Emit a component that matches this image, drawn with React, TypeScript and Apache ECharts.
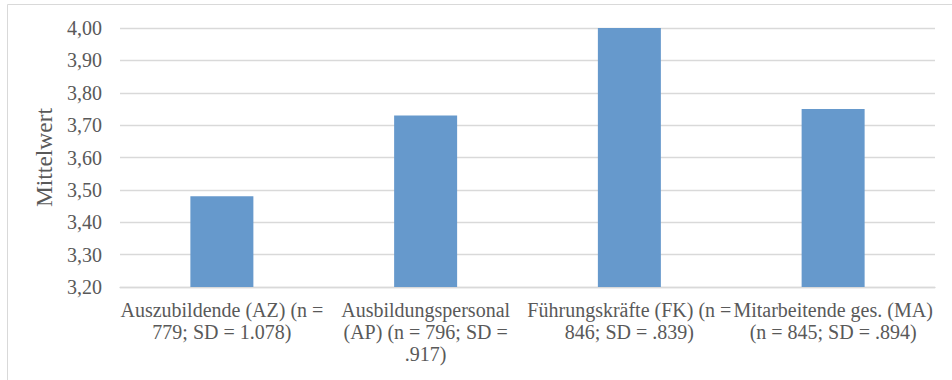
import React, { useEffect, useRef } from "react";
import * as echarts from "echarts";

const categories = [
  "Auszubildende (AZ) (n =\n779; SD = 1.078)",
  "Ausbildungspersonal\n(AP) (n = 796; SD =\n.917)",
  "Führungskräfte (FK) (n =\n846; SD = .839)",
  "Mitarbeitende ges. (MA)\n(n = 845; SD = .894)",
];
const values = [3.48, 3.73, 4.0, 3.75];
const yAxisName = "Mittelwert";
const yMin = 3.2;
const yMax = 4.0;
const yStep = 0.1;

export default function App() {
  const ref = useRef<HTMLDivElement>(null);
  useEffect(() => {
    if (!ref.current) return;
    const chart = echarts.init(ref.current, undefined, { renderer: "svg" });
    const font = "Liberation Serif";
    chart.setOption({
      animation: false,
      backgroundColor: "#ffffff",
      textStyle: { fontFamily: font },
      graphic: [
        {
          type: "rect",
          shape: { x: 7.5, y: 4.5, width: 960, height: 400 },
          style: { fill: "none", stroke: "#d9d9d9", lineWidth: 1 },
          silent: true,
        },
      ],
      grid: { left: 120, right: 17, top: 28, bottom: 93, containLabel: false },
      xAxis: {
        type: "category",
        data: categories,
        axisLine: { show: true, lineStyle: { color: "#d9d9d9", width: 1.3 } },
        axisTick: { show: false },
        axisLabel: {
          interval: 0,
          color: "#595959",
          fontSize: 20,
          lineHeight: 22,
          margin: 12,
          fontFamily: font,
        },
      },
      yAxis: {
        type: "value",
        min: yMin,
        max: yMax,
        interval: yStep,
        name: yAxisName,
        nameLocation: "middle",
        nameGap: 63,
        nameTextStyle: { color: "#595959", fontSize: 23.5, fontFamily: font },
        axisLine: { show: false },
        axisTick: { show: false },
        splitLine: { lineStyle: { color: "#d9d9d9", width: 1.3 } },
        axisLabel: {
          color: "#595959",
          fontSize: 20,
          margin: 18,
          fontFamily: font,
          formatter: (v: number) => v.toFixed(2).replace(".", ","),
        },
      },
      series: [
        {
          type: "bar",
          data: values,
          barWidth: 63,
          itemStyle: { color: "#6699cc" },
        },
      ],
    });
    return () => chart.dispose();
  }, []);
  return (
    <div
      ref={ref}
      style={{ position: "fixed", left: 0, top: 0, width: 952, height: 380 }}
    />
  );
}
